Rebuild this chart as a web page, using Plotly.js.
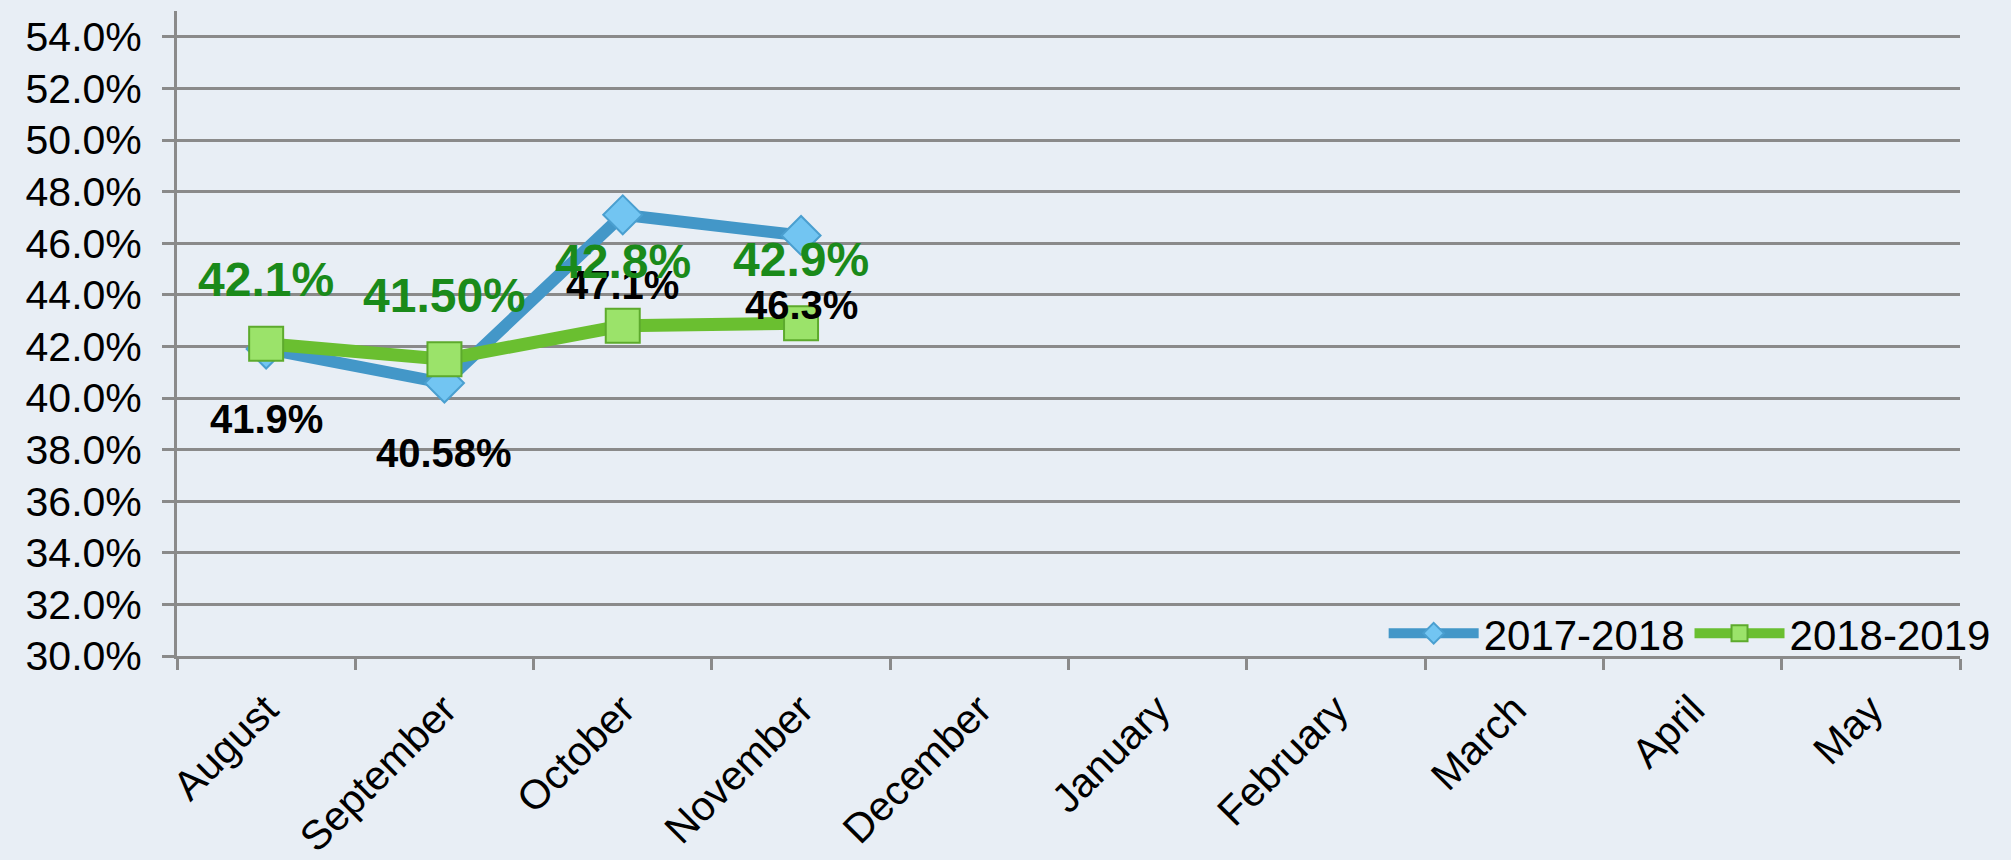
<!DOCTYPE html>
<html>
<head>
<meta charset="utf-8">
<script src="https://cdn.plot.ly/plotly-3.0.1.min.js"></script>
<style>
  html, body { margin: 0; padding: 0; background: #E8EEF5; }
  #chart { width: 2011px; height: 860px; }
</style>
</head>
<body>
<div id="chart"></div>
<script>
const months = ["August", "September", "October", "November", "December", "January", "February", "March", "April", "May"];
const series1Name = "2017-2018";
const series1Values = [0.419, 0.4058, 0.471, 0.463];
const series1Labels = ["41.9%", "40.58%", "47.1%", "46.3%"];
const series2Name = "2018-2019";
const series2Values = [0.421, 0.415, 0.428, 0.429];
const series2Labels = ["42.1%", "41.50%", "42.8%", "42.9%"];

const font = "Liberation Sans, Arial, Helvetica, sans-serif";

const traces = [
  {
    type: "scatter", mode: "lines+markers", name: series1Name,
    x: months.slice(0, series1Values.length), y: series1Values,
    line: { color: "#4397C8", width: 12 },
    marker: { symbol: "diamond", size: 30, color: "#72C5F2", line: { color: "#4A9FD0", width: 2 } },
    hoverinfo: "skip"
  },
  {
    type: "scatter", mode: "lines+markers", name: series2Name,
    x: months.slice(0, series2Values.length), y: series2Values,
    line: { color: "#6ABF30", width: 13 },
    marker: { symbol: "square", size: 34, color: "#9BE36A", line: { color: "#5DAA2D", width: 2 } },
    hoverinfo: "skip"
  }
];

const annotations = [];
series1Values.forEach((v, i) => annotations.push({
  x: months[i], y: v, xref: "x", yref: "y", text: series1Labels[i], showarrow: false,
  yshift: -70, xanchor: "center", yanchor: "middle",
  font: { family: font, size: 40, color: "#000000", weight: "bold" }
}));
series2Values.forEach((v, i) => annotations.push({
  x: months[i], y: v, xref: "x", yref: "y", text: series2Labels[i], showarrow: false,
  yshift: 64, xanchor: "center", yanchor: "middle",
  font: { family: font, size: 48, color: "#1A8A1A", weight: "bold" }
}));

const layout = {
  width: 2011, height: 860,
  paper_bgcolor: "#E8EEF5", plot_bgcolor: "#E8EEF5",
  margin: { l: 177, r: 51, t: 11, b: 204 },
  showlegend: true,
  legend: {
    orientation: "h", x: 1.02, xanchor: "right", y: 0.035, yanchor: "middle",
    bgcolor: "rgba(0,0,0,0)", font: { family: font, size: 42, color: "#000" },
    itemwidth: 90, tracegroupgap: 0
  },
  xaxis: {
    type: "category", categoryorder: "array", categoryarray: months,
    range: [-0.5, months.length - 0.5],
    tickson: "boundaries", ticks: "outside", ticklen: 11, tickwidth: 3, tickcolor: "#8A8A8A",
    showline: true, linecolor: "#8A8A8A", linewidth: 3, showgrid: false, zeroline: false,
    tickangle: -45, tickfont: { family: font, size: 41, color: "#000" },
    ticklabelstandoff: 10,
    fixedrange: true
  },
  yaxis: {
    range: [0.30, 0.55], tick0: 0.30, dtick: 0.02, tickformat: ".1%",
    ticks: "outside", ticklen: 12, tickwidth: 3, tickcolor: "#8A8A8A",
    showline: true, linecolor: "#8A8A8A", linewidth: 3,
    showgrid: true, gridcolor: "#8A8A8A", gridwidth: 3, zeroline: false,
    tickfont: { family: font, size: 41, color: "#000" },
    ticklabelstandoff: 12,
    fixedrange: true
  },
  annotations: annotations
};

Plotly.newPlot("chart", traces, layout, { staticPlot: true, displayModeBar: false });
</script>
</body>
</html>
